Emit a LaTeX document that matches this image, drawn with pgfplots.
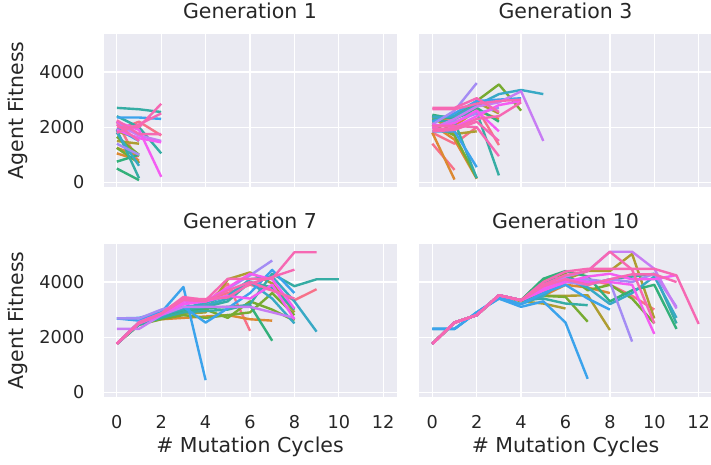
\documentclass[border=0pt]{standalone}
\usepackage{fontspec}
\setmainfont{DejaVu Sans}
\usepackage{pgfplots}
\pgfplotsset{compat=1.18}

\definecolor{bgc}{HTML}{EAEAF2}
\definecolor{tcol}{HTML}{262626}
\definecolor{hA}{HTML}{F77189}
\definecolor{hB}{HTML}{DC8932}
\definecolor{hC}{HTML}{AE9D31}
\definecolor{hD}{HTML}{77AB31}
\definecolor{hE}{HTML}{33B07A}
\definecolor{hF}{HTML}{36ADA4}
\definecolor{hG}{HTML}{38A9C5}
\definecolor{hH}{HTML}{3BA3EC}
\definecolor{hI}{HTML}{A48CF4}
\definecolor{hJ}{HTML}{C77CF4}
\definecolor{hK}{HTML}{F45CF2}
\definecolor{hL}{HTML}{F668B3}

\newcommand\ticksize{\fontsize{17.7pt}{20pt}\selectfont}
\newcommand\labsize{\fontsize{20.5pt}{24pt}\selectfont}

\pgfplotsset{
  facet/.style={
    width=293pt, height=153pt, scale only axis,
    xmin=-0.6, xmax=12.6, ymin=-170, ymax=5380,
    xtick={0,2,...,12}, ytick={0,2000,4000},
    axis background/.style={fill=bgc},
    axis line style={draw=none},
    major tick length=0pt,
    grid=major, major grid style={white, line width=1.3pt},
    /pgf/number format/1000 sep={},
    /pgf/number format/assume math mode=true,
    tick label style={font=\ticksize, text=tcol},
    yticklabel style={inner sep=0pt, xshift=-19pt},
    xticklabel style={inner sep=0pt, yshift=-18pt},
    title style={at={(axis description cs:0.5,1)}, anchor=base, yshift=9.5pt,
      font=\labsize, text=tcol, inner sep=0pt},
    every axis y label/.style={at={(axis description cs:0,0.5)}, rotate=90,
      anchor=south, inner sep=0pt, yshift=76pt, font=\labsize, text=tcol},
    every axis x label/.style={at={(axis description cs:0.5,0)},
      anchor=north, inner sep=0pt, yshift=-40pt, font=\labsize, text=tcol},
    every axis plot/.append style={line width=2.4pt, line join=round},
  },
}

\begin{document}
\begin{tikzpicture}
% Generation 1
\begin{axis}[facet, at={(103.5pt,277pt)}, anchor=south west,
  title={Generation 1}, ylabel={Agent Fitness}, xticklabels={}]
\addplot[hA] coordinates {(0,2200)(1,700)};
\addplot[hA] coordinates {(0,1900)(1,2200)(2,1700)};
\addplot[hB] coordinates {(0,1050)(1,800)};
\addplot[hB] coordinates {(0,1250)(1,950)};
\addplot[hC] coordinates {(0,1500)(1,1400)};
\addplot[hC] coordinates {(0,1850)(1,1600)};
\addplot[hD] coordinates {(0,1650)(1,1000)};
\addplot[hD] coordinates {(0,1250)(1,700)};
\addplot[hE] coordinates {(0,500)(1,80)};
\addplot[hE] coordinates {(0,750)(1,1000)};
\addplot[hF] coordinates {(0,2700)(1,2650)(2,2550)};
\addplot[hF] coordinates {(0,2400)(1,2000)(2,1050)};
\addplot[hF] coordinates {(0,1900)(1,150)};
\addplot[hG] coordinates {(0,1800)(1,600)};
\addplot[hH] coordinates {(0,2350)(1,2350)(2,2300)};
\addplot[hH] coordinates {(0,1950)(1,1500)};
\addplot[hI] coordinates {(0,1400)(1,1000)};
\addplot[hI] coordinates {(0,2200)(1,1700)};
\addplot[hJ] coordinates {(0,2100)(1,1700)(2,1500)};
\addplot[hK] coordinates {(0,2200)(1,1900)(2,200)};
\addplot[hK] coordinates {(0,1900)(1,1600)(2,1450)};
\addplot[hL] coordinates {(0,2000)(1,2000)(2,2850)};
\addplot[hL] coordinates {(0,1800)(1,2100)(2,2500)};
\addplot[hL] coordinates {(0,2250)(1,1750)(2,1750)};
\addplot[hL] coordinates {(0,2100)(1,1500)};
\end{axis}

% Generation 3
\begin{axis}[facet, at={(419pt,277pt)}, anchor=south west,
  title={Generation 3}, xticklabels={}, yticklabels={}]
\addplot[hA] coordinates {(0,1400)(1,450)};
\addplot[hA] coordinates {(0,1800)(1,1400)(2,2000)};
\addplot[hA] coordinates {(0,2200)(1,2300)(2,2700)(3,1350)};
\addplot[hB] coordinates {(0,2100)(1,1550)(2,130)};
\addplot[hB] coordinates {(0,1800)(1,100)};
\addplot[hB] coordinates {(0,2300)(1,2050)(2,2600)(3,2300)};
\addplot[hC] coordinates {(0,2400)(1,1750)(2,1850)};
\addplot[hC] coordinates {(0,2200)(1,2400)(2,2900)(3,2500)};
\addplot[hD] coordinates {(0,2300)(1,2400)(2,2950)(3,3550)(4,2600)};
\addplot[hD] coordinates {(0,2100)(1,1700)(2,150)};
\addplot[hE] coordinates {(0,2450)(1,2300)(2,2700)(3,2200)};
\addplot[hF] coordinates {(0,2400)(1,2350)(2,2550)(3,250)};
\addplot[hF] coordinates {(0,2250)(1,2200)(2,150)};
\addplot[hG] coordinates {(0,2350)(1,2400)(2,2800)(3,3200)(4,3350)(5,3200)};
\addplot[hH] coordinates {(0,1850)(1,1850)(2,550)};
\addplot[hH] coordinates {(0,2200)(1,2500)(2,2950)(3,3000)(4,3050)};
\addplot[hI] coordinates {(0,2100)(1,2600)(2,3600)};
\addplot[hI] coordinates {(0,2000)(1,2200)(2,2500)(3,2700)};
\addplot[hJ] coordinates {(0,1950)(1,2300)(2,2750)(3,2900)(4,3300)(5,1500)};
\addplot[hK] coordinates {(0,2000)(1,2150)(2,2600)(3,1850)};
\addplot[hK] coordinates {(0,2100)(1,2000)(2,2400)(3,2800)(4,2950)};
\addplot[hL] coordinates {(0,2650)(1,2650)(2,2850)(3,2950)(4,3000)};
\addplot[hL] coordinates {(0,2050)(1,2050)(2,2000)(3,950)};
\addplot[hL] coordinates {(0,2700)(1,2700)(2,3050)(3,2550)};
\addplot[hL] coordinates {(0,1950)(1,1950)(2,2300)(3,2400)(4,2900)};
\addplot[hL] coordinates {(0,1850)(1,1900)(2,2200)(3,1500)};
\end{axis}

% Generation 7
\begin{axis}[facet, at={(103.5pt,67pt)}, anchor=south west,
  title={Generation 7}, ylabel={Agent Fitness}, xlabel={\# Mutation Cycles}]
\addplot[hA] coordinates {(0,1760)(1,2450)(2,2750)(3,3000)(4,3200)(5,3940)(6,2230)};
\addplot[hA] coordinates {(0,1760)(1,2500)(2,2800)(3,3300)(4,3350)(5,3600)(6,3900)(7,3700)(8,3340)(9,3740)};
\addplot[hB] coordinates {(0,1760)(1,2500)(2,2650)(3,2700)(4,2750)(5,2800)(6,2650)(7,2600)};
\addplot[hC] coordinates {(0,1760)(1,2500)(2,2700)(3,2850)(4,2900)(5,4100)(6,4350)(7,3950)(8,2900)};
\addplot[hD] coordinates {(0,1760)(1,2450)(2,2650)(3,2800)(4,2700)(5,2800)(6,2900)(7,3600)(8,2800)};
\addplot[hD] coordinates {(0,1760)(1,2500)(2,2700)(3,2900)(4,3000)(5,2700)(6,3300)(7,3000)(8,2600)};
\addplot[hE] coordinates {(0,1760)(1,2500)(2,2750)(3,2950)(4,3050)(5,3100)(6,3160)(7,1870)};
\addplot[hF] coordinates {(0,1760)(1,2450)(2,2700)(3,2900)(4,2950)(5,3000)(6,3200)(7,4300)(8,3850)(9,4100)(10,4100)};
\addplot[hF] coordinates {(0,1760)(1,2550)(2,2800)(3,3000)(4,3100)(5,3300)(6,4000)(7,3800)(8,3000)};
\addplot[hG] coordinates {(0,1760)(1,2500)(2,2750)(3,3100)(4,3150)(5,3400)(6,4000)(7,3400)(8,2500)};
\addplot[hG] coordinates {(0,1760)(1,2500)(2,2800)(3,3050)(4,3250)(5,3500)(6,4100)(7,4200)(8,3300)(9,2200)};
\addplot[hH] coordinates {(0,2680)(1,2600)(2,2900)(3,3820)(4,440)};
\addplot[hH] coordinates {(0,2680)(1,2700)(2,2900)(3,3100)(4,2530)(5,3050)(6,3600)(7,4440)(8,3600)};
\addplot[hI] coordinates {(0,2680)(1,2680)(2,3000)(3,3200)(4,3300)(5,3760)(6,4240)(7,4780)};
\addplot[hJ] coordinates {(0,2300)(1,2300)(2,2800)(3,3100)(4,3100)(5,3100)(6,3100)(7,2900)(8,2700)};
\addplot[hK] coordinates {(0,1760)(1,2550)(2,2850)(3,3200)(4,3300)(5,3500)(6,3400)(7,3900)(8,2650)};
\addplot[hK] coordinates {(0,1760)(1,2500)(2,2800)(3,3300)(4,3300)(5,3800)(6,4300)(7,4100)(8,3040)};
\addplot[hL] coordinates {(0,1760)(1,2530)(2,2860)(3,3460)(4,3340)(5,4120)(6,4120)(7,4120)(8,5080)(9,5080)};
\addplot[hL] coordinates {(0,1760)(1,2530)(2,2860)(3,3400)(4,3380)(5,3440)(6,3940)(7,4180)(8,4450)};
\addplot[hL] coordinates {(0,1760)(1,2500)(2,2850)(3,3350)(4,3300)(5,3700)(6,4000)(7,3700)(8,3400)};
\end{axis}

% Generation 10
\begin{axis}[facet, at={(419pt,67pt)}, anchor=south west,
  title={Generation 10}, xlabel={\# Mutation Cycles}, yticklabels={}]
\addplot[hA] coordinates {(0,1760)(1,2530)(2,2800)(3,3520)(4,3340)(5,3520)(6,4000)(7,4100)(8,3900)(9,3500)(10,3000)};
\addplot[hB] coordinates {(0,1760)(1,2530)(2,2800)(3,3500)(4,3340)(5,3500)(6,3900)(7,3800)(8,3600)};
\addplot[hC] coordinates {(0,1760)(1,2530)(2,2800)(3,3520)(4,3300)(5,3220)(6,3040)};
\addplot[hC] coordinates {(0,1760)(1,2530)(2,2800)(3,3520)(4,3340)(5,3500)(6,3500)(7,3520)(8,2260)};
\addplot[hC] coordinates {(0,1760)(1,2530)(2,2800)(3,3520)(4,3340)(5,3600)(6,4100)(7,4400)(8,4400)(9,5020)(10,2680)};
\addplot[hD] coordinates {(0,1760)(1,2530)(2,2800)(3,3520)(4,3340)(5,3500)(6,3460)(7,2560)};
\addplot[hD] coordinates {(0,1760)(1,2530)(2,2800)(3,3520)(4,3340)(5,4100)(6,4300)(7,3700)(8,3900)(9,3400)(10,2500)};
\addplot[hE] coordinates {(0,1760)(1,2530)(2,2800)(3,3520)(4,3340)(5,4120)(6,4400)(7,4200)(8,3300)(9,3700)(10,3900)(11,2300)};
\addplot[hF] coordinates {(0,1760)(1,2530)(2,2800)(3,3520)(4,3340)(5,3400)(6,3220)(7,3160)};
\addplot[hF] coordinates {(0,1760)(1,2530)(2,2800)(3,3520)(4,3340)(5,4000)(6,4200)(7,3900)(8,4100)(9,4200)(10,4300)(11,2500)};
\addplot[hG] coordinates {(0,2300)(1,2300)(2,2900)(3,3400)(4,3200)(5,3500)(6,4100)(7,3800)(8,3200)(9,3600)(10,4200)(11,2700)};
\addplot[hH] coordinates {(0,2300)(1,2300)(2,2900)(3,3400)(4,3100)(5,3300)(6,2530)(7,490)};
\addplot[hH] coordinates {(0,2300)(1,2300)(2,2900)(3,3450)(4,3200)(5,3600)(6,3900)(7,3400)(8,3000)};
\addplot[hI] coordinates {(0,1760)(1,2530)(2,2800)(3,3520)(4,3340)(5,3700)(6,4050)(7,4100)(8,4000)(9,1840)};
\addplot[hI] coordinates {(0,1760)(1,2530)(2,2800)(3,3520)(4,3340)(5,3700)(6,4000)(7,3900)(8,4100)(9,4000)(10,4300)(11,3100)};
\addplot[hJ] coordinates {(0,1760)(1,2530)(2,2800)(3,3520)(4,3340)(5,3800)(6,4200)(7,4400)(8,5100)(9,5100)(10,4480)(11,3040)};
\addplot[hK] coordinates {(0,1760)(1,2530)(2,2800)(3,3520)(4,3340)(5,3800)(6,4100)(7,4000)(8,4000)(9,3900)(10,2120)};
\addplot[hK] coordinates {(0,1760)(1,2530)(2,2800)(3,3520)(4,3340)(5,3700)(6,4000)(7,4200)(8,4300)(9,4100)(10,4100)(11,4250)};
\addplot[hL] coordinates {(0,1760)(1,2530)(2,2800)(3,3520)(4,3340)(5,3900)(6,4250)(7,4400)(8,5100)(9,4450)(10,2500)};
\addplot[hL] coordinates {(0,1760)(1,2530)(2,2800)(3,3520)(4,3340)(5,4000)(6,4380)(7,4480)(8,4480)(9,4480)(10,4480)(11,4240)(12,2480)};
\addplot[hL] coordinates {(0,1760)(1,2530)(2,2800)(3,3520)(4,3340)(5,3850)(6,4100)(7,3900)(8,4100)(9,4280)(10,4280)(11,4000)};
\end{axis}
\pgfresetboundingbox
\useasboundingbox (0,0) rectangle (711pt,464pt);
\end{tikzpicture}
\end{document}
